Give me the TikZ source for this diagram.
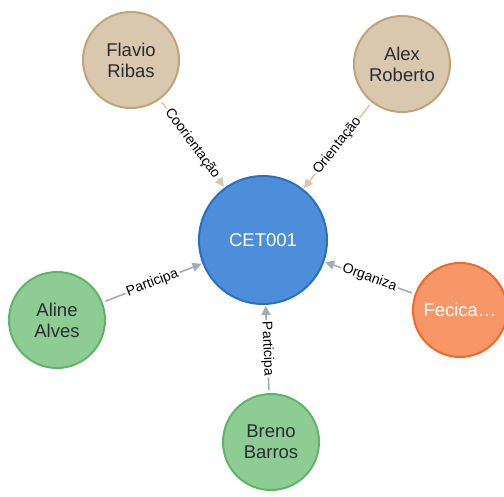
\documentclass[tikz,border=0pt]{standalone}
\usepackage{fontspec}
\setmainfont{Liberation Sans}
\usetikzlibrary{arrows.meta}

\definecolor{tanfill}{HTML}{D9C8AE}
\definecolor{tanline}{HTML}{C0A378}
\definecolor{bluefill}{HTML}{4C8EDA}
\definecolor{blueline}{HTML}{2870C2}
\definecolor{greenfill}{HTML}{8DCC93}
\definecolor{greenline}{HTML}{5DB665}
\definecolor{orangefill}{HTML}{F79767}
\definecolor{orangeline}{HTML}{F36924}
\definecolor{darktext}{HTML}{2A2C34}
\definecolor{relgray}{HTML}{A5ABB6}
\definecolor{reltan}{HTML}{D9C8AE}

\begin{document}
\begin{tikzpicture}[x=1pt,y=-1pt,
  entity/.style={circle,draw,line width=2pt,inner sep=0pt,align=center,
    font=\fontsize{18.5}{21}\selectfont},
  person/.style={entity,fill=tanfill,draw=tanline,text=darktext,minimum size=96pt},
  member/.style={entity,fill=greenfill,draw=greenline,text=darktext,minimum size=96pt},
  event/.style={entity,fill=bluefill,draw=blueline,text=white,minimum size=128pt},
  org/.style={entity,fill=orangefill,draw=orangeline,text=white,minimum size=94pt},
  rel/.style={line width=1.6pt,-{Triangle[length=9pt,width=9pt]},shorten <=3pt,shorten >=1pt},
  rellabel/.style={sloped,fill=white,inner sep=1.5pt,text=black,
    font=\fontsize{14}{14}\selectfont}
]
\useasboundingbox (0,0) rectangle (504,496);

% entities
\node[event]  (cet)    at (263,240) {CET001};
\node[person] (flavio) at (131,60)  {Flavio\\Ribas};
\node[person] (alex)   at (402,64)  {Alex\\Roberto};
\node[member] (aline)  at (57,320)  {Aline\\Alves};
\node[member] (breno)  at (271,442) {Breno\\Barros};
\node[org]    (fecica) at (460,310) {Fecica\ldots};

% relationships
\draw[rel,draw=reltan]   (flavio) -- node[rellabel]{Coorientação} (cet);
\draw[rel,draw=reltan]   (alex)   -- node[rellabel]{Orientação}   (cet);
\draw[rel,draw=relgray]  (aline)  -- node[rellabel]{Participa}    (cet);
\draw[rel,draw=relgray]  (breno)  -- node[rellabel]{Participa}    (cet);
\draw[rel,draw=relgray]  (fecica) -- node[rellabel]{Organiza}     (cet);
\end{tikzpicture}
\end{document}
